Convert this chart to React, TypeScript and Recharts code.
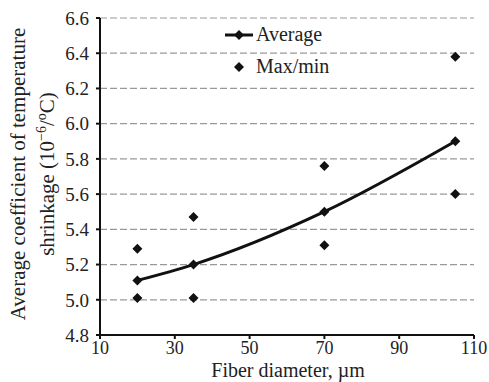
import React from "react";
import {
  ComposedChart,
  Line,
  Scatter,
  XAxis,
  YAxis,
  CartesianGrid,
} from "recharts";

const FONT = "'Liberation Serif', 'Times New Roman', serif";

// fiber diameter (µm)
const diameters = [20, 35, 70, 105];
// average coefficient of temperature shrinkage (10^-6/°C)
const averages = [5.11, 5.2, 5.5, 5.9];
const maxValues = [5.29, 5.47, 5.76, 6.38];
const minValues = [5.01, 5.01, 5.31, 5.6];

const xTicks = [10, 30, 50, 70, 90, 110];
const yTicks = [4.8, 5.0, 5.2, 5.4, 5.6, 5.8, 6.0, 6.2, 6.4, 6.6];

const avgData = diameters.map((d, i) => ({ x: d, y: averages[i] }));
const rangeData = diameters.flatMap((d, i) => [
  { x: d, y: maxValues[i] },
  { x: d, y: minValues[i] },
]);

function Diamond({ cx, cy, r = 5 }: { cx?: number; cy?: number; r?: number }) {
  if (cx == null || cy == null) return null;
  return (
    <path
      d={`M${cx},${cy - r}L${cx + r},${cy}L${cx},${cy + r}L${cx - r},${cy}Z`}
      fill="#111"
    />
  );
}

function YLabel() {
  const cy = 174;
  return (
    <g style={{ fontFamily: FONT, fontSize: 21 }} fill="#222">
      <text x={25} y={cy} textAnchor="middle" transform={`rotate(-90, 25, ${cy})`}>
        Average coefficient of  temperature
      </text>
      <text x={54} y={cy} textAnchor="middle" transform={`rotate(-90, 54, ${cy})`}>
        shrinkage (10
        <tspan dy={-8} fontSize={14}>−6</tspan>
        <tspan dy={8}>/</tspan>
        <tspan dy={-8} fontSize={14}>o</tspan>
        <tspan dy={8}>C)</tspan>
      </text>
    </g>
  );
}

function XLabel() {
  return (
    <text
      x={288}
      y={377}
      textAnchor="middle"
      style={{ fontFamily: FONT, fontSize: 20 }}
      fill="#222"
    >
      Fiber diameter, µm
    </text>
  );
}

function LegendBox() {
  return (
    <svg width={160} height={60} style={{ overflow: "visible", display: "block" }}>
      <line x1={5} y1={15} x2={33} y2={15} stroke="#111" strokeWidth={3} />
      <Diamond cx={19} cy={15} r={5} />
      <text x={36} y={21} style={{ fontFamily: FONT, fontSize: 20 }} fill="#222">
        Average
      </text>
      <Diamond cx={19} cy={47} r={5} />
      <text x={36} y={53} style={{ fontFamily: FONT, fontSize: 20 }} fill="#222">
        Max/min
      </text>
    </svg>
  );
}

export default function App() {
  return (
    <div style={{ position: "absolute", left: 0, top: 0, width: 489, height: 382, background: "#fff" }}>
      <ComposedChart
        width={489}
        height={382}
        margin={{ top: 18, right: 15, bottom: 0, left: 0 }}
      >
        <CartesianGrid
          vertical={false}
          stroke="#999"
          strokeDasharray="7 3"
          strokeWidth={1.2}
        />
        <XAxis
          type="number"
          dataKey="x"
          domain={[10, 110]}
          ticks={xTicks}
          height={47}
          tick={{ fill: "#222", fontSize: 18, style: { fontFamily: FONT } }}
          tickSize={4}
          tickMargin={2}
          axisLine={{ stroke: "#111", strokeWidth: 2 }}
          tickLine={{ stroke: "#111", strokeWidth: 2 }}
          label={<XLabel />}
        />
        <YAxis
          type="number"
          dataKey="y"
          domain={[4.8, 6.6]}
          ticks={yTicks}
          width={100}
          tickFormatter={(v: number) => v.toFixed(1)}
          tick={{ fill: "#222", fontSize: 19, style: { fontFamily: FONT } }}
          tickSize={4}
          tickMargin={7}
          axisLine={{ stroke: "#111", strokeWidth: 2 }}
          tickLine={{ stroke: "#111", strokeWidth: 2 }}
          label={<YLabel />}
        />
        <Line
          data={avgData}
          dataKey="y"
          type="monotone"
          stroke="#111"
          strokeWidth={3}
          dot={<Diamond r={5} />}
          isAnimationActive={false}
          name="Average"
        />
        <Scatter
          data={rangeData}
          dataKey="y"
          shape={(p: any) => <Diamond cx={p.cx} cy={p.cy} r={5} />}
          isAnimationActive={false}
          name="Max/min"
        />
      </ComposedChart>
      <div style={{ position: "absolute", left: 220, top: 20 }}>
        <LegendBox />
      </div>
    </div>
  );
}
